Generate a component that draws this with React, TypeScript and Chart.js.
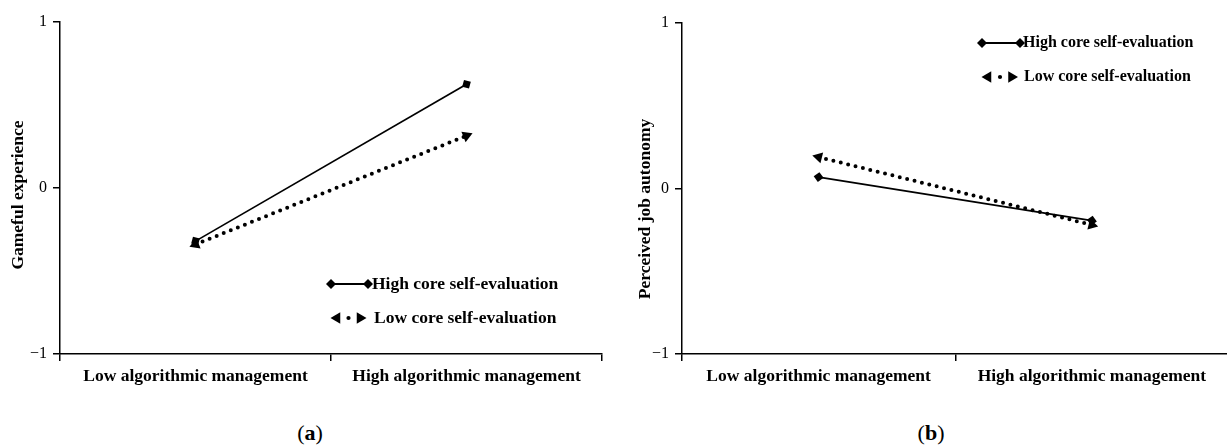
import React, { useEffect, useRef } from "react";
import { Chart, registerables } from "chart.js";
import { drawPoint } from "chart.js/helpers";

Chart.register(...registerables);

// ---------- data ----------
const categories = ["Low algorithmic management", "High algorithmic management"];
const seriesNames = ["High core self-evaluation", "Low core self-evaluation"];
const yTickValues = [-1, 0, 1];
const yTickLabels = ["\u22121", "0", "1"];
const gamefulHigh = [-0.32, 0.625];
const gamefulLow = [-0.34, 0.315];
const autonomyHigh = [0.069, -0.194];
const autonomyLow = [0.19, -0.22];
const yTitles = ["Gameful experience", "Perceived job autonomy"];
const panelLetters = ["a", "b"];

const FAMILY = "'Liberation Serif', 'Times New Roman', serif";
const H = 400;

function lineAngle(c: any): number {
  const ch = c.chart;
  const ds = ch.data.datasets[c.datasetIndex];
  const xs = ch.scales.x;
  const ys = ch.scales.y;
  if (!ds || !xs || !ys) return 0;
  const x0 = xs.getPixelForValue(0);
  const x1 = xs.getPixelForValue(1);
  const y0 = ys.getPixelForValue(ds.data[0]);
  const y1 = ys.getPixelForValue(ds.data[1]);
  return (Math.atan2(y1 - y0, x1 - x0) * 180) / Math.PI;
}

type PanelProps = {
  high: number[];
  low: number[];
  yTitle: string;
  canvasLeft: number;
  canvasWidth: number;
  area: { left: number; right: number; top: number; bottom: number };
  titlePos: { x: number; y: number };
  legend: { x1: number; x2: number; y1: number; y2: number; tri1: number; tri2: number; dot: number; tx1: number; tx2: number; size: number };
};

function Panel(p: PanelProps) {
  const ref = useRef<HTMLCanvasElement | null>(null);
  useEffect(() => {
    if (!ref.current) return;
    const titlePlugin = {
      id: "yTitleCustom",
      afterDraw(chart: any) {
        const ctx = chart.ctx;
        ctx.save();
        ctx.translate(p.titlePos.x, p.titlePos.y);
        ctx.rotate(-Math.PI / 2);
        ctx.fillStyle = "#000";
        ctx.font = `bold 17.5px ${FAMILY}`;
        ctx.textAlign = "center";
        ctx.textBaseline = "middle";
        ctx.fillText(p.yTitle, 0, 0);
        ctx.restore();
      },
    };
    const legendPlugin = {
      id: "sampleLegend",
      afterDraw(chart: any) {
        const ctx = chart.ctx;
        const L = p.legend;
        ctx.save();
        ctx.fillStyle = "#000";
        ctx.strokeStyle = "#000";
        // row 1: solid line with diamonds
        ctx.lineWidth = 1.8;
        ctx.beginPath();
        ctx.moveTo(L.x1, L.y1);
        ctx.lineTo(L.x2, L.y1);
        ctx.stroke();
        drawPoint(ctx, { pointStyle: "rectRot", rotation: 0, radius: 5, borderWidth: 0 } as any, L.x1, L.y1);
        drawPoint(ctx, { pointStyle: "rectRot", rotation: 0, radius: 5, borderWidth: 0 } as any, L.x2, L.y1);
        // row 2: triangles with a dot
        drawPoint(ctx, { pointStyle: "triangle", rotation: -90, radius: 6.5, borderWidth: 0 } as any, L.tri1, L.y2);
        drawPoint(ctx, { pointStyle: "triangle", rotation: 90, radius: 6.5, borderWidth: 0 } as any, L.tri2, L.y2);
        ctx.beginPath();
        ctx.arc(L.dot, L.y2, 2.1, 0, Math.PI * 2);
        ctx.fill();
        ctx.font = `bold ${L.size}px ${FAMILY}`;
        ctx.textAlign = "left";
        ctx.textBaseline = "middle";
        ctx.fillText(seriesNames[0], L.tx1, L.y1);
        ctx.fillText(seriesNames[1], L.tx2, L.y2);
        ctx.restore();
      },
    };

    const chart = new Chart(ref.current, {
      type: "line",
      data: {
        labels: categories,
        datasets: [
          {
            label: seriesNames[0],
            data: p.high,
            borderColor: "#000",
            backgroundColor: "#000",
            borderWidth: 1.7,
            pointStyle: "rectRot",
            pointRadius: 5,
            pointBorderWidth: 0,
            pointBackgroundColor: "#000",
            pointRotation: (c: any) => lineAngle(c),
            tension: 0,
          },
          {
            label: seriesNames[1],
            data: p.low,
            borderColor: "#000",
            backgroundColor: "#000",
            borderWidth: 4,
            borderDash: [0, 7.6],
            borderCapStyle: "round",
            pointStyle: "triangle",
            pointRadius: 6.5,
            pointBorderWidth: 0,
            pointBackgroundColor: "#000",
            pointRotation: (c: any) => {
              const a = lineAngle(c);
              return c.dataIndex === 1 ? a + 90 : a - 90;
            },
            tension: 0,
          },
        ],
      } as any,
      options: {
        responsive: false,
        animation: false,
        events: [],
        layout: {
          padding: { top: p.area.top, right: p.canvasWidth - p.area.right, left: 0, bottom: 0 },
        },
        plugins: { legend: { display: false }, tooltip: { enabled: false }, title: { display: false } },
        scales: {
          x: {
            type: "category",
            offset: true,
            grid: { offset: true, drawOnChartArea: false, drawTicks: true, tickLength: 7, color: "#000", lineWidth: 1.5 },
            border: { display: true, color: "#000", width: 1.5 },
            ticks: { color: "#000", font: { family: FAMILY, size: 17.5, weight: "bold" }, padding: 5, maxRotation: 0, autoSkip: false },
            afterFit: (s: any) => {
              s.height = H - p.area.bottom;
            },
          },
          y: {
            type: "linear",
            min: -1,
            max: 1,
            afterBuildTicks: (s: any) => {
              s.ticks = yTickValues.map((v) => ({ value: v }));
            },
            grid: { drawOnChartArea: false, drawTicks: true, tickLength: 7, color: "#000", lineWidth: 1.5 },
            border: { display: true, color: "#000", width: 1.5 },
            ticks: {
              color: "#000",
              font: { family: FAMILY, size: 16 },
              padding: 6,
              callback: (v: any) => {
                const i = yTickValues.indexOf(Number(v));
                return i >= 0 ? yTickLabels[i] : "";
              },
            },
            afterFit: (s: any) => {
              s.width = p.area.left;
            },
          },
        },
      } as any,
      plugins: [titlePlugin, legendPlugin],
    });
    return () => chart.destroy();
  }, []);
  return (
    <canvas
      ref={ref}
      width={p.canvasWidth}
      height={H}
      style={{ position: "absolute", left: p.canvasLeft, top: 0, width: p.canvasWidth, height: H }}
    />
  );
}

function Caption({ letter, x }: { letter: string; x: number }) {
  return (
    <div
      style={{
        position: "absolute",
        left: x,
        top: 421,
        transform: "translateX(-50%)",
        fontFamily: FAMILY,
        fontSize: 22,
        lineHeight: "24px",
        color: "#000",
        whiteSpace: "nowrap",
      }}
    >
      (<b>{letter}</b>)
    </div>
  );
}

export default function App() {
  return (
    <div
      style={{
        position: "fixed",
        left: 0,
        top: 0,
        width: 1227,
        height: 447,
        overflow: "hidden",
        background: "#fff",
      }}
    >
      <Panel
        high={gamefulHigh}
        low={gamefulLow}
        yTitle={yTitles[0]}
        canvasLeft={0}
        canvasWidth={615}
        area={{ left: 60, right: 602, top: 22, bottom: 354 }}
        titlePos={{ x: 18, y: 195 }}
        legend={{ x1: 331, x2: 368, y1: 284, y2: 318, tri1: 337, tri2: 360, dot: 348.5, tx1: 372, tx2: 374, size: 17.5 }}
      />
      <Panel
        high={autonomyHigh}
        low={autonomyLow}
        yTitle={yTitles[1]}
        canvasLeft={615}
        canvasWidth={620}
        area={{ left: 67, right: 614, top: 23, bottom: 354 }}
        titlePos={{ x: 30, y: 209 }}
        legend={{ x1: 367, x2: 405, y1: 43, y2: 77, tri1: 373, tri2: 396.5, dot: 385, tx1: 408, tx2: 409, size: 16 }}
      />
      <Caption letter={panelLetters[0]} x={310} />
      <Caption letter={panelLetters[1]} x={931} />
    </div>
  );
}
